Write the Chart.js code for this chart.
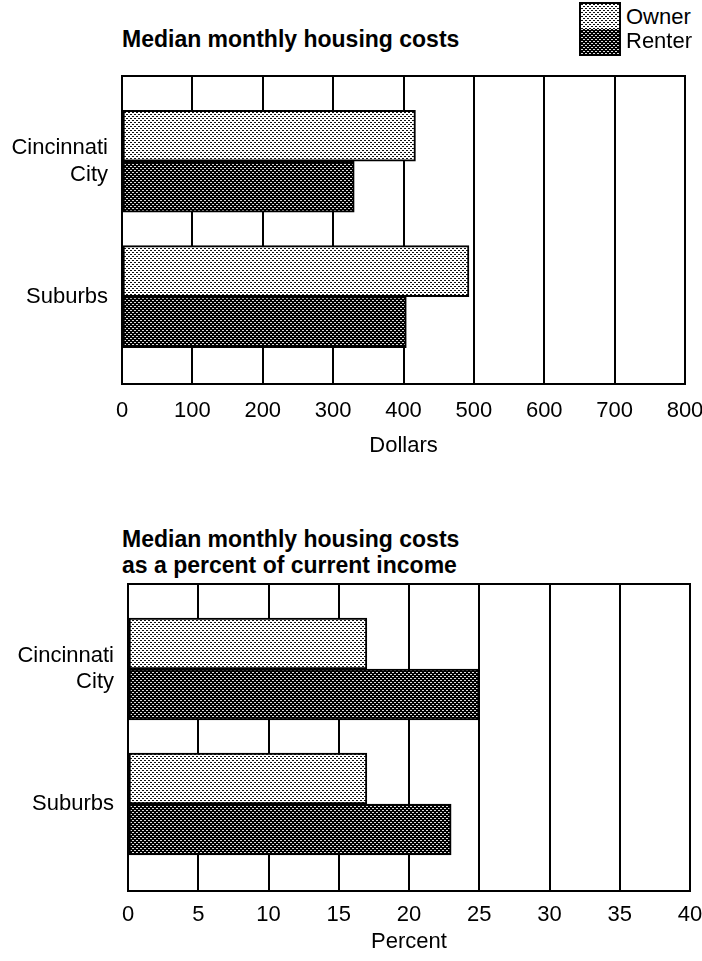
<!DOCTYPE html>
<html lang="en">
<head>
<meta charset="UTF-8">
<title>Median monthly housing costs</title>
<script src="https://cdn.jsdelivr.net/npm/chart.js"></script>
<style>
  body {
    margin: 0;
    width: 702px;
    height: 961px;
    position: relative;
    overflow: hidden;
    background: #fff;
    color: #000;
    font-family: "Liberation Sans", Arial, sans-serif;
  }
  .title {
    position: absolute;
    left: 122px;
    font-size: 23px;
    font-weight: bold;
    line-height: 26px;
    white-space: nowrap;
  }
  .chart {
    position: absolute;
    left: 0;
  }
  .legend-box {
    position: absolute;
    left: 579px;
    top: 2px;
    border: 2px solid #000;
    width: 38px;
    height: 50px;
  }
  .legend-box canvas { display: block; }
  .legend-text {
    position: absolute;
    left: 626px;
    font-size: 22px;
    line-height: 26px;
  }
</style>
</head>
<body>
<div class="title" style="top:26px">Median monthly housing costs</div>
<div class="legend-box"><canvas id="swOwner" width="38" height="25"></canvas><canvas id="swRenter" width="38" height="25"></canvas></div>
<div class="legend-text" style="top:4px">Owner</div>
<div class="legend-text" style="top:28px">Renter</div>
<canvas class="chart" id="costChart" width="702" height="480" style="top:0"></canvas>

<div class="title" style="top:526px">Median monthly housing costs<br>as a percent of current income</div>
<canvas class="chart" id="pctChart" width="702" height="481" style="top:480px"></canvas>

<script>
  const places = ['Cincinnati City', 'Suburbs'];
  const seriesNames = ['Owner', 'Renter'];

  // dollars
  const costOwner = [417, 493];
  const costRenter = [330, 404];
  const dollarTicks = [0, 100, 200, 300, 400, 500, 600, 700, 800];

  // percent of current income
  const pctOwner = [17, 17];
  const pctRenter = [25, 23];
  const percentTicks = [0, 5, 10, 15, 20, 25, 30, 35, 40];

  const FONT = '"Liberation Sans", Arial, sans-serif';

  function dotPattern(bg, fg) {
    const c = document.createElement('canvas');
    c.width = 4;
    c.height = 4;
    const g = c.getContext('2d');
    g.fillStyle = bg;
    g.fillRect(0, 0, 4, 4);
    g.fillStyle = fg;
    g.fillRect(0, 0, 2, 1);
    g.fillRect(2, 2, 2, 1);
    return g.createPattern(c, 'repeat');
  }

  const ownerFill = dotPattern('#ffffff', '#111111');
  const renterFill = dotPattern('#000000', '#dddddd');

  // legend swatches
  [['swOwner', ownerFill], ['swRenter', renterFill]].forEach(([id, fill]) => {
    const g = document.getElementById(id).getContext('2d');
    g.fillStyle = fill;
    g.fillRect(0, 0, 38, 25);
  });

  const boxPlugin = {
    id: 'box',
    afterDatasetsDraw(chart) {
      const {ctx, chartArea: a} = chart;
      ctx.save();
      ctx.strokeStyle = '#000';
      ctx.lineWidth = 2;
      ctx.strokeRect(a.left, a.top, a.right - a.left, a.bottom - a.top);
      ctx.restore();
    }
  };

  function makeChart(id, owner, renter, xTicks, xTitle, opts) {
    const toPoints = vals => vals.map((v, i) => ({x: v, y: i + 1}));
    return new Chart(document.getElementById(id), {
      type: 'bar',
      data: {
        datasets: [
          {label: seriesNames[0], data: toPoints(owner), backgroundColor: ownerFill},
          {label: seriesNames[1], data: toPoints(renter), backgroundColor: renterFill}
        ]
      },
      plugins: [boxPlugin],
      options: {
        indexAxis: 'y',
        responsive: false,
        animation: false,
        devicePixelRatio: 1,
        layout: {
          autoPadding: false,
          padding: {top: opts.top, right: opts.right, left: 0, bottom: 0}
        },
        datasets: {
          bar: {
            barThickness: 51,
            borderColor: '#000',
            borderWidth: 2,
            borderSkipped: false
          }
        },
        plugins: {
          legend: {display: false},
          tooltip: {enabled: false}
        },
        scales: {
          x: {
            type: 'linear',
            min: xTicks[0],
            max: xTicks[xTicks.length - 1],
            afterBuildTicks: s => { s.ticks = xTicks.map(v => ({value: v})); },
            afterFit: s => {
              s.height = opts.xHeight;
              s.paddingLeft = 0;
              s.paddingRight = 0;
            },
            grid: {color: '#000', lineWidth: 2, drawTicks: false},
            border: {display: false},
            ticks: {
              color: '#000',
              padding: opts.tickPad,
              font: {family: FONT, size: 22}
            },
            title: {
              display: true,
              text: xTitle,
              color: '#000',
              font: {family: FONT, size: 22},
              padding: {top: 0, bottom: opts.titlePad}
            }
          },
          y: {
            type: 'linear',
            offset: false,
            reverse: true,
            min: 0.37,
            max: 2.645,
            afterBuildTicks: s => { s.ticks = places.map((p, i) => ({value: i + 1})); },
            afterFit: s => { s.width = opts.yWidth; },
            grid: {display: false},
            border: {display: false},
            ticks: {
              color: '#000',
              padding: 6,
              font: {family: FONT, size: 22},
              callback: v => {
                const name = places[Math.round(v) - 1] || '';
                return name.indexOf(' ') > 0 ? name.split(' ') : name;
              }
            }
          }
        }
      }
    });
  }

  makeChart('costChart', costOwner, costRenter, dollarTicks, 'Dollars',
    {top: 76, right: 17, yWidth: 122, xHeight: 96, tickPad: 14, titlePad: 21});
  makeChart('pctChart', pctOwner, pctRenter, percentTicks, 'Percent',
    {top: 104, right: 12, yWidth: 128, xHeight: 70, tickPad: 11, titlePad: 6});
</script>
</body>
</html>
